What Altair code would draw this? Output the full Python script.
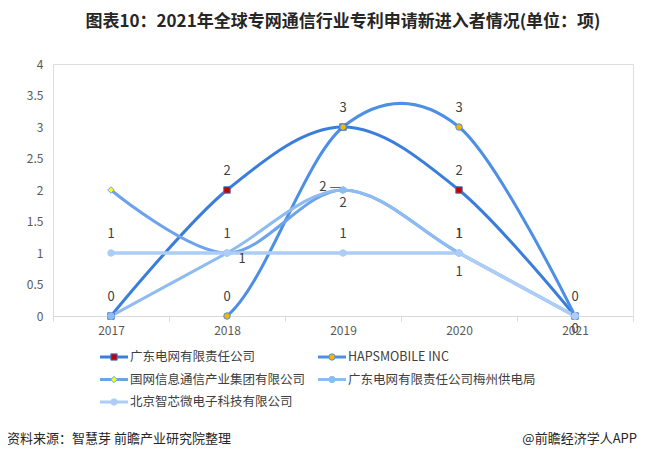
import altair as alt
import pandas as pd

FONT = "Noto Sans CJK SC"

years = ["2017", "2018", "2019", "2020", "2021"]
series = ["广东电网有限责任公司", "HAPSMOBILE INC", "国网信息通信产业集团有限公司",
          "广东电网有限责任公司梅州供电局", "北京智芯微电子科技有限公司"]
v_gd = [0, 2, 3, 2, 0]
v_haps = [0, 0, 3, 3, 0]
v_gw = [2, 1, 2, 1, 0]
v_mz = [0, 1, 2, 1, 0]
v_bj = [1, 1, 1, 1, 0]
y_ticks = [0, 0.5, 1, 1.5, 2, 2.5, 3, 3.5, 4]

line_colors = ["#3A7EDC", "#4D8FE5", "#6CA3EC", "#8EBBF2", "#ABCDF6"]
marker_colors = ["#C00000", "#F2B800", "#FFFF00", "#8EBBF2", "#ABCDF6"]
marker_shapes = ["square", "circle", "diamond", "circle", "circle"]
smooth = [True, True, True, True, False]

# which data labels are shown, and where (series index, year index)
lab_above = [[4, 0], [0, 0], [0, 1], [4, 1], [1, 1], [0, 2], [4, 2], [1, 3], [0, 3], [4, 3], [3, 3], [0, 4]]
lab_below_far = [[2, 3]]
lab_below_near = [[3, 2], [1, 4]]
lab_right = [[2, 1]]
lab_left = [[2, 2]]

title_text = "图表10：2021年全球专网通信行业专利申请新进入者情况(单位：项)"
source_text = "资料来源：智慧芽 前瞻产业研究院整理"
brand_text = "@前瞻经济学人APP"

rows = []
for si, (s, vals) in enumerate(zip(series, [v_gd, v_haps, v_gw, v_mz, v_bj])):
    for yi, (y, v) in enumerate(zip(years, vals)):
        pos = "none"
        for name, lst in [("above", lab_above), ("below_far", lab_below_far),
                          ("below_near", lab_below_near), ("right", lab_right), ("left", lab_left)]:
            if [si, yi] in lst:
                pos = name
        rows.append({"year": y, "series": s, "value": v, "pos": pos, "order": si,
                     "smooth": smooth[si]})
df = pd.DataFrame(rows)
leg_df = pd.DataFrame({"series": series, "idx": list(range(len(series)))})

x_scale = alt.Scale(type="band", domain=years, paddingInner=0, paddingOuter=0)
y_scale = alt.Scale(domain=[0, 4], nice=False)
x_axis = alt.Axis(title=None, tickBand="extent", labelAngle=0, domainColor="#D9D9D9",
                  tickColor="#D9D9D9", tickSize=5, labelColor="#595959", labelFontSize=12,
                  labelFont=FONT, labelPadding=4, grid=False)
y_axis = alt.Axis(title=None, values=y_ticks, labelExpr="'' + datum.value", domain=False,
                  ticks=False, grid=False, labelPadding=10, labelColor="#595959",
                  labelFontSize=12, labelFont=FONT)
x_enc = alt.X("year:O", scale=x_scale, axis=None)
y_enc = alt.Y("value:Q", scale=y_scale, axis=None)
x_enc_ax = alt.X("year:O", scale=x_scale, axis=x_axis)
y_enc_ax = alt.Y("value:Q", scale=y_scale, axis=y_axis)

stroke_enc = alt.Stroke("series:N", scale=alt.Scale(domain=series, range=line_colors), legend=None)
fill_enc = alt.Fill("series:N", scale=alt.Scale(domain=series, range=marker_colors), legend=None)
shape_enc = alt.Shape("series:N", scale=alt.Scale(domain=series, range=marker_shapes), legend=None)

base = alt.Chart(df)

lines_smooth = base.transform_filter(alt.datum.smooth == True).mark_line(
    interpolate="cardinal", strokeWidth=3, clip=True).encode(
    x=x_enc_ax, y=y_enc_ax, stroke=stroke_enc, detail="series:N")
lines_straight = base.transform_filter(alt.datum.smooth == False).mark_line(
    strokeWidth=3.5, clip=True).encode(
    x=x_enc, y=y_enc, stroke=stroke_enc, detail="series:N")

points = base.mark_point(filled=False, size=42, strokeWidth=1, opacity=1).encode(
    x=x_enc, y=y_enc, stroke=stroke_enc, fill=fill_enc, shape=shape_enc)

def lab(pos, dx=0, dy=0, align="center", suffix=""):
    return base.transform_filter(alt.datum.pos == pos).transform_calculate(
        txt="'' + datum.value + '" + suffix + "'"
    ).mark_text(font=FONT, fontSize=13, color="#404040", dx=dx, dy=dy, align=align,
                baseline="middle").encode(x=x_enc, y=y_enc, text="txt:N")

labels = [
    lab("above", dy=-19),
    lab("below_far", dy=19),
    lab("below_near", dy=13),
    lab("right", dx=15, dy=6),
    lab("left", dx=-2, dy=-3, align="right", suffix=" —"),
]

# ---- legend (built from the same colour / shape scales) ----
lbase = alt.Chart(leg_df).transform_calculate(
    col="datum.idx % 2", row="floor(datum.idx / 2)")
lx = alt.X("col:Q", scale=alt.Scale(domain=[0, 1], range=[61, 279]), axis=None)
ly = alt.Y("row:Q", scale=alt.Scale(domain=[0, 2], range=[293, 338]), axis=None)
leg_line = lbase.mark_point(shape="M-1,0H1", size=784, strokeWidth=3, filled=False, opacity=1).encode(
    x=lx, y=ly, stroke=stroke_enc)
leg_mark = lbase.mark_point(size=40, strokeWidth=1, filled=False, opacity=1).encode(
    x=lx, y=ly, stroke=stroke_enc, fill=fill_enc, shape=shape_enc)
leg_text = lbase.mark_text(font=FONT, fontSize=12.5, color="#404040", align="left",
                           baseline="middle", dx=16).encode(x=lx, y=ly, text="series:N")

foot_df = pd.DataFrame({"a": [0]})
src = alt.Chart(foot_df).mark_text(font=FONT, fontSize=13, color="#262626", align="left",
                                   baseline="middle").encode(
    x=alt.value(-46), y=alt.value(375), text=alt.value(source_text))
brand = alt.Chart(foot_df).mark_text(font=FONT, fontSize=13, color="#262626", align="right",
                                     baseline="middle").encode(
    x=alt.value(584), y=alt.value(375), text=alt.value(brand_text))

chart = alt.layer(lines_smooth, lines_straight, points, *labels,
                  leg_line, leg_mark, leg_text, src, brand).resolve_scale(
    x="independent", y="independent"
).properties(
    width=580, height=252,
    autosize=alt.AutoSizeParams(type="none"),
    padding={"left": 45, "top": 56, "right": 5, "bottom": 130},
    title=alt.Title(title_text, fontSize=17, fontWeight="bold", font=FONT, color="#262626",
                    anchor="middle", offset=27),
).configure_view(stroke=None).configure(background="white")

chart.save("out.html", embed_options={"renderer": "svg", "actions": False})
